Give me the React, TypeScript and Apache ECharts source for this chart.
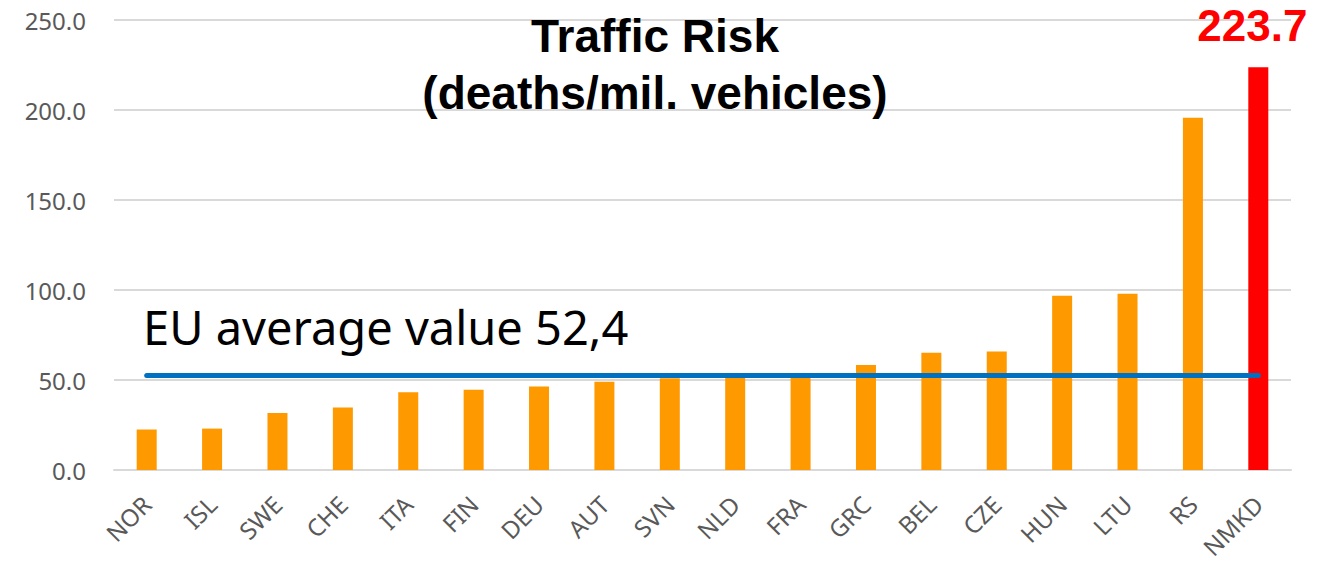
import React, { useEffect, useRef } from "react";
import * as echarts from "echarts";

const categories = ["NOR", "ISL", "SWE", "CHE", "ITA", "FIN", "DEU", "AUT", "SVN", "NLD", "FRA", "GRC", "BEL", "CZE", "HUN", "LTU", "RS", "NMKD"];
const values = [22.5, 23.0, 31.6, 34.7, 43.2, 44.6, 46.4, 49.0, 51.0, 51.5, 52.0, 58.4, 65.1, 65.8, 96.8, 97.9, 195.7, 223.7];
const highlighted = "NMKD";
const euAverage = 52.4;
const euLabel = "EU average value 52,4";
const titleText = "Traffic Risk\n(deaths/mil. vehicles)";
const yMin = 0;
const yMax = 250;
const yInterval = 50;

export default function App() {
  const ref = useRef<HTMLDivElement>(null);
  useEffect(() => {
    if (!ref.current) return;
    const chart = echarts.init(ref.current, null, { renderer: "svg" });
    const data = categories.map((c, i) =>
      c === highlighted
        ? {
            value: values[i],
            itemStyle: { color: "#FF0000" },
            label: {
              show: true,
              position: "top",
              distance: 20,
              offset: [-6, 0],
              formatter: (p: any) => Number(p.value).toFixed(1),
              color: "#FF0000",
              fontFamily: "Liberation Sans",
              fontWeight: "bold",
              fontSize: 44,
              lineHeight: 44,
            },
          }
        : { value: values[i] }
    );
    chart.setOption({
      animation: false,
      backgroundColor: "#ffffff",
      grid: { left: 114, right: 26, top: 20, bottom: 94, containLabel: false },
      xAxis: {
        type: "category",
        data: categories,
        boundaryGap: true,
        axisLine: { show: true, lineStyle: { color: "#D9D9D9", width: 2 } },
        axisTick: { show: false },
        axisLabel: {
          rotate: 45,
          margin: 30,
          color: "#595959",
          fontFamily: "Noto Sans",
          fontSize: 24,
          interval: 0,
        },
      },
      yAxis: {
        type: "value",
        min: yMin,
        max: yMax,
        interval: yInterval,
        axisLine: { show: false },
        axisTick: { show: false },
        splitLine: { show: true, lineStyle: { color: "#D9D9D9", width: 2 } },
        axisLabel: {
          margin: 28,
          color: "#595959",
          fontFamily: "Noto Sans",
          fontSize: 24,
          formatter: (v: number) => v.toFixed(1),
        },
      },
      series: [
        {
          type: "bar",
          data,
          barWidth: 20,
          itemStyle: { color: "#FF9900" },
          markLine: {
            silent: true,
            symbol: ["none", "none"],
            label: { show: false },
            lineStyle: { color: "#0070C0", width: 5, type: "solid", cap: "round" },
            data: [
              [
                { coord: [categories[0], euAverage] },
                { coord: [categories[categories.length - 1], euAverage] },
              ],
            ],
          },
        },
      ],
      graphic: [
        {
          type: "text",
          x: 655,
          y: 7,
          z: 100,
          style: {
            text: titleText,
            align: "center",
            verticalAlign: "top",
            fontFamily: "Liberation Sans",
            fontWeight: "bold",
            fontSize: 46,
            lineHeight: 57,
            fill: "#000000",
          },
        },
        {
          type: "text",
          x: 143,
          y: 327,
          z: 100,
          style: {
            text: euLabel,
            align: "left",
            verticalAlign: "middle",
            fontFamily: "Noto Sans",
            fontSize: 47,
            fill: "#000000",
          },
        },
      ],
    });
    return () => chart.dispose();
  }, []);
  return (
    <div
      ref={ref}
      style={{ position: "fixed", left: 0, top: 0, width: 1317, height: 564, background: "#fff" }}
    />
  );
}
